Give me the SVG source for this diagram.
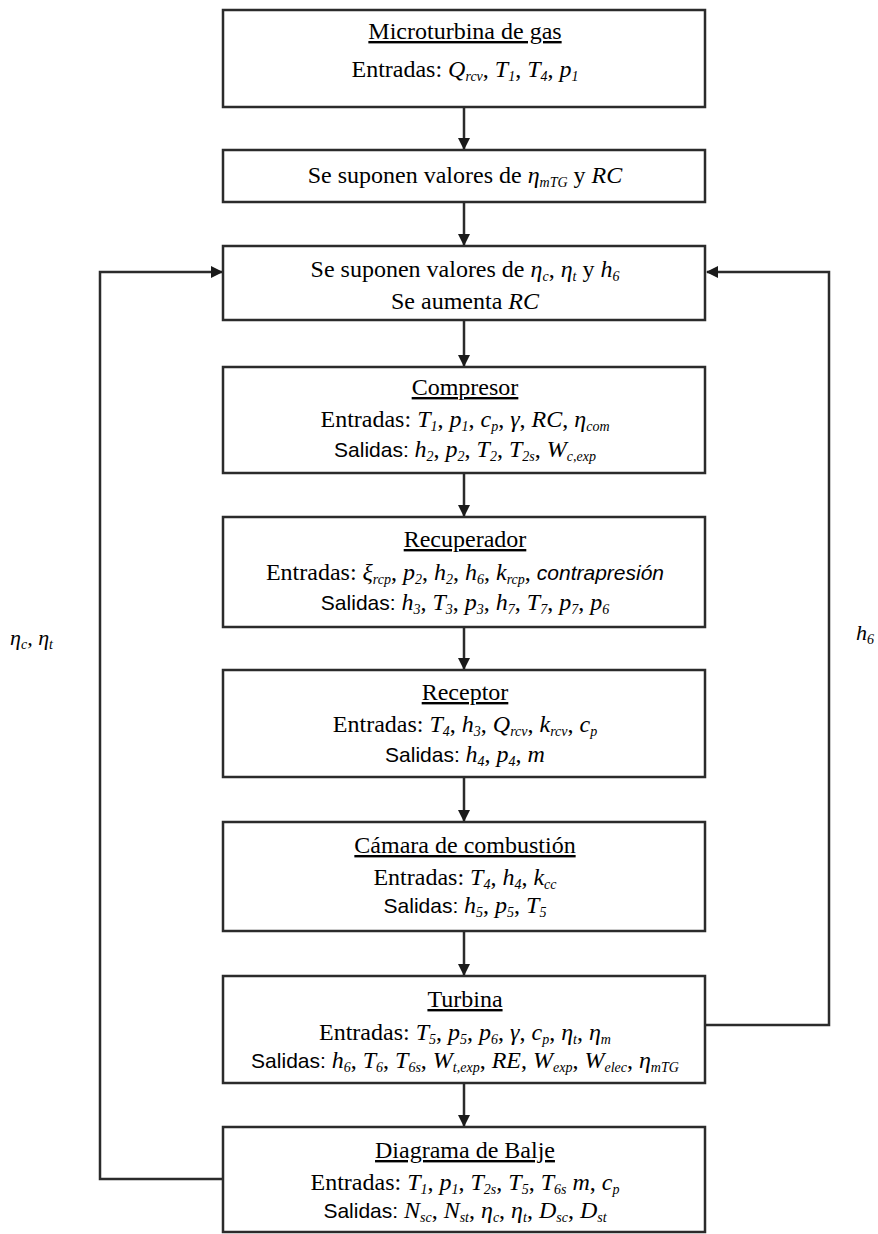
<svg xmlns="http://www.w3.org/2000/svg" width="878" height="1234" viewBox="0 0 878 1234">
<style>
.box{fill:#fff;stroke:#2b2b2b;stroke-width:2.5}
.c{fill:none;stroke:#2b2b2b;stroke-width:2.5}
.t{font-family:"Liberation Serif","Times New Roman",serif;font-size:24px;fill:#000;text-anchor:middle}
.u{text-decoration:underline}
.i{font-style:italic}
.s{font-size:14px;baseline-shift:-4px;font-style:italic}
.sa{font-family:"Liberation Sans",Arial,sans-serif;font-size:21px}
.lab{font-family:"Liberation Serif","Times New Roman",serif;font-size:22px;font-style:italic;fill:#000}
</style>
<defs>
<marker id="ah" markerUnits="userSpaceOnUse" markerWidth="12" markerHeight="12" refX="11" refY="6" orient="auto">
<path d="M0,0 L12,6 L0,12 Z" fill="#1a1a1a"/>
</marker>
</defs>
<g id="connectors">
<line class="c" x1="464" y1="107" x2="464" y2="149" marker-end="url(#ah)"/>
<line class="c" x1="464" y1="202" x2="464" y2="245" marker-end="url(#ah)"/>
<line class="c" x1="464" y1="320" x2="464" y2="366" marker-end="url(#ah)"/>
<line class="c" x1="464" y1="473" x2="464" y2="516" marker-end="url(#ah)"/>
<line class="c" x1="464" y1="627" x2="464" y2="669" marker-end="url(#ah)"/>
<line class="c" x1="464" y1="777" x2="464" y2="821" marker-end="url(#ah)"/>
<line class="c" x1="464" y1="931" x2="464" y2="975" marker-end="url(#ah)"/>
<line class="c" x1="464" y1="1083" x2="464" y2="1126" marker-end="url(#ah)"/>
<polyline class="c" points="223,1179 100,1179 100,272 222,272" marker-end="url(#ah)"/>
<polyline class="c" points="705,1025 829,1025 829,272 707,272" marker-end="url(#ah)"/>
<text class="lab" x="10" y="645">η<tspan class="s">c</tspan>, η<tspan class="s">t</tspan></text>
<text class="lab" x="856" y="640">h<tspan class="s">6</tspan></text>
</g>
<g id="n1">
<rect class="box" x="223" y="10" width="482" height="97"/>
<text class="t u" x="465" y="39">Microturbina de gas</text>
<text class="t" x="465" y="77">Entradas: <tspan class="i">Q</tspan><tspan class="s">rcv</tspan>, <tspan class="i">T</tspan><tspan class="s">1</tspan>, <tspan class="i">T</tspan><tspan class="s">4</tspan>, <tspan class="i">p</tspan><tspan class="s">1</tspan></text>
</g>
<g id="n2">
<rect class="box" x="223" y="150" width="482" height="52"/>
<text class="t" x="465" y="183">Se suponen valores de <tspan class="i">η</tspan><tspan class="s">mTG</tspan> y <tspan class="i">RC</tspan></text>
</g>
<g id="n3">
<rect class="box" x="223" y="246" width="482" height="74"/>
<text class="t" x="465" y="277">Se suponen valores de <tspan class="i">η</tspan><tspan class="s">c</tspan>, <tspan class="i">η</tspan><tspan class="s">t</tspan> y <tspan class="i">h</tspan><tspan class="s">6</tspan></text>
<text class="t" x="465" y="309">Se aumenta <tspan class="i">RC</tspan></text>
</g>
<g id="n4">
<rect class="box" x="223" y="367" width="482" height="106"/>
<text class="t u" x="465" y="395">Compresor</text>
<text class="t" x="465" y="427">Entradas: <tspan class="i">T</tspan><tspan class="s">1</tspan>, <tspan class="i">p</tspan><tspan class="s">1</tspan>, <tspan class="i">c</tspan><tspan class="s">p</tspan>, <tspan class="i">γ</tspan>, <tspan class="i">RC</tspan>, <tspan class="i">η</tspan><tspan class="s">com</tspan></text>
<text class="t" x="465" y="457"><tspan class="sa">Salidas: </tspan><tspan class="i">h</tspan><tspan class="s">2</tspan>, <tspan class="i">p</tspan><tspan class="s">2</tspan>, <tspan class="i">T</tspan><tspan class="s">2</tspan>, <tspan class="i">T</tspan><tspan class="s">2s</tspan>, <tspan class="i">W</tspan><tspan class="s">c,exp</tspan></text>
</g>
<g id="n5">
<rect class="box" x="223" y="517" width="482" height="110"/>
<text class="t u" x="465" y="547">Recuperador</text>
<text class="t" x="465" y="580">Entradas: <tspan class="i">ξ</tspan><tspan class="s">rcp</tspan>, <tspan class="i">p</tspan><tspan class="s">2</tspan>, <tspan class="i">h</tspan><tspan class="s">2</tspan>, <tspan class="i">h</tspan><tspan class="s">6</tspan>, <tspan class="i">k</tspan><tspan class="s">rcp</tspan>, <tspan class="sa i">contrapresión</tspan></text>
<text class="t" x="465" y="610"><tspan class="sa">Salidas: </tspan><tspan class="i">h</tspan><tspan class="s">3</tspan>, <tspan class="i">T</tspan><tspan class="s">3</tspan>, <tspan class="i">p</tspan><tspan class="s">3</tspan>, <tspan class="i">h</tspan><tspan class="s">7</tspan>, <tspan class="i">T</tspan><tspan class="s">7</tspan>, <tspan class="i">p</tspan><tspan class="s">7</tspan>, <tspan class="i">p</tspan><tspan class="s">6</tspan></text>
</g>
<g id="n6">
<rect class="box" x="223" y="670" width="482" height="107"/>
<text class="t u" x="465" y="700">Receptor</text>
<text class="t" x="465" y="732">Entradas: <tspan class="i">T</tspan><tspan class="s">4</tspan>, <tspan class="i">h</tspan><tspan class="s">3</tspan>, <tspan class="i">Q</tspan><tspan class="s">rcv</tspan>, <tspan class="i">k</tspan><tspan class="s">rcv</tspan>, <tspan class="i">c</tspan><tspan class="s">p</tspan></text>
<text class="t" x="465" y="762"><tspan class="sa">Salidas: </tspan><tspan class="i">h</tspan><tspan class="s">4</tspan>, <tspan class="i">p</tspan><tspan class="s">4</tspan>, <tspan class="i">m</tspan></text>
</g>
<g id="n7">
<rect class="box" x="223" y="822" width="482" height="109"/>
<text class="t u" x="465" y="853">Cámara de combustión</text>
<text class="t" x="465" y="885">Entradas: <tspan class="i">T</tspan><tspan class="s">4</tspan>, <tspan class="i">h</tspan><tspan class="s">4</tspan>, <tspan class="i">k</tspan><tspan class="s">cc</tspan></text>
<text class="t" x="465" y="913"><tspan class="sa">Salidas: </tspan><tspan class="i">h</tspan><tspan class="s">5</tspan>, <tspan class="i">p</tspan><tspan class="s">5</tspan>, <tspan class="i">T</tspan><tspan class="s">5</tspan></text>
</g>
<g id="n8">
<rect class="box" x="223" y="976" width="482" height="107"/>
<text class="t u" x="465" y="1007">Turbina</text>
<text class="t" x="465" y="1040">Entradas: <tspan class="i">T</tspan><tspan class="s">5</tspan>, <tspan class="i">p</tspan><tspan class="s">5</tspan>, <tspan class="i">p</tspan><tspan class="s">6</tspan>, <tspan class="i">γ</tspan>, <tspan class="i">c</tspan><tspan class="s">p</tspan>, <tspan class="i">η</tspan><tspan class="s">t</tspan>, <tspan class="i">η</tspan><tspan class="s">m</tspan></text>
<text class="t" x="465" y="1068"><tspan class="sa">Salidas: </tspan><tspan class="i">h</tspan><tspan class="s">6</tspan>, <tspan class="i">T</tspan><tspan class="s">6</tspan>, <tspan class="i">T</tspan><tspan class="s">6s</tspan>, <tspan class="i">W</tspan><tspan class="s">t,exp</tspan>, <tspan class="i">RE</tspan>, <tspan class="i">W</tspan><tspan class="s">exp</tspan>, <tspan class="i">W</tspan><tspan class="s">elec</tspan>, <tspan class="i">η</tspan><tspan class="s">mTG</tspan></text>
</g>
<g id="n9">
<rect class="box" x="223" y="1127" width="482" height="105"/>
<text class="t u" x="465" y="1158">Diagrama de Balje</text>
<text class="t" x="465" y="1190">Entradas: <tspan class="i">T</tspan><tspan class="s">1</tspan>, <tspan class="i">p</tspan><tspan class="s">1</tspan>, <tspan class="i">T</tspan><tspan class="s">2s</tspan>, <tspan class="i">T</tspan><tspan class="s">5</tspan>, <tspan class="i">T</tspan><tspan class="s">6s</tspan> <tspan class="i">m</tspan>, <tspan class="i">c</tspan><tspan class="s">p</tspan></text>
<text class="t" x="465" y="1218"><tspan class="sa">Salidas: </tspan><tspan class="i">N</tspan><tspan class="s">sc</tspan>, <tspan class="i">N</tspan><tspan class="s">st</tspan>, <tspan class="i">η</tspan><tspan class="s">c</tspan>, <tspan class="i">η</tspan><tspan class="s">t</tspan>, <tspan class="i">D</tspan><tspan class="s">sc</tspan>, <tspan class="i">D</tspan><tspan class="s">st</tspan></text>
</g>
</svg>
